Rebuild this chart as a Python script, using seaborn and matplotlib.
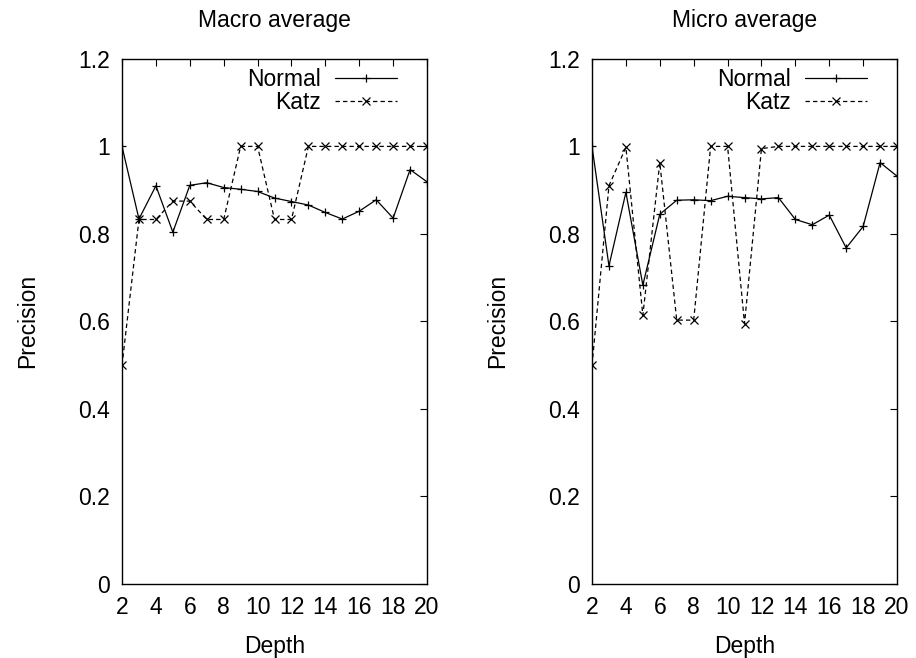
import numpy as np
import pandas as pd
import matplotlib
matplotlib.use("Agg")
import matplotlib.pyplot as plt
import seaborn as sns

sns.set_style("white")
plt.rcParams['font.family'] = ['Liberation Sans', 'DejaVu Sans']
plt.rcParams['text.color'] = 'black'
plt.rcParams['axes.labelcolor'] = 'black'

depth = list(range(2, 21))

# macro average
macro_normal = [1.0, 0.834, 0.910, 0.804, 0.911, 0.917, 0.906, 0.902, 0.897, 0.882,
                0.874, 0.866, 0.849, 0.834, 0.852, 0.878, 0.836, 0.947, 0.919]
macro_katz = [0.5, 0.833, 0.833, 0.875, 0.875, 0.833, 0.833, 1.0, 1.0, 0.833,
              0.833, 1.0, 1.0, 1.0, 1.0, 1.0, 1.0, 1.0, 1.0]

# micro average
micro_normal = [1.0, 0.727, 0.895, 0.683, 0.845, 0.877, 0.878, 0.876, 0.886, 0.883,
                0.880, 0.883, 0.833, 0.821, 0.843, 0.768, 0.817, 0.963, 0.932]
micro_katz = [0.5, 0.910, 0.998, 0.614, 0.963, 0.603, 0.603, 1.0, 1.0, 0.595,
              0.995, 1.0, 1.0, 1.0, 1.0, 1.0, 1.0, 1.0, 1.0]

titles = ["Macro average", "Micro average"]
xticks = list(range(2, 21, 2))
yticks = [0, 0.2, 0.4, 0.6, 0.8, 1.0, 1.2]
ytick_labels = ["0", "0.2", "0.4", "0.6", "0.8", "1", "1.2"]

fig = plt.figure(figsize=(9.16, 6.58), dpi=100)
ax1 = fig.add_axes([0.1332, 0.1125, 0.333, 0.798])
ax2 = fig.add_axes([0.6463, 0.1125, 0.333, 0.798])

fs = 16.5
for ax, title, normal, katz in [(ax1, titles[0], macro_normal, macro_katz),
                                (ax2, titles[1], micro_normal, micro_katz)]:
    df = pd.DataFrame({"Depth": depth * 2,
                       "Precision": normal + katz,
                       "series": ["Normal"] * len(depth) + ["Katz"] * len(depth)})
    sns.lineplot(data=df, x="Depth", y="Precision", style="series", ax=ax,
                 color="black", lw=0.9,
                 markers={"Normal": "+", "Katz": "x"},
                 dashes={"Normal": "", "Katz": (3.5, 2.5)},
                 markersize=5.5, markeredgewidth=0.9, markeredgecolor="black")
    ax.set_xlim(2, 20)
    ax.set_ylim(0, 1.2)
    ax.set_xticks(xticks)
    ax.set_yticks(yticks)
    ax.set_yticklabels(ytick_labels)
    ax.tick_params(direction="in", top=True, right=True, length=5, width=0.8,
                   labelsize=fs, pad=9, colors="black")
    for s in ax.spines.values():
        s.set_color("black")
        s.set_linewidth(1.0)
    ax.set_title(title, fontsize=fs, pad=23)
    ax.set_xlabel("Depth", fontsize=fs, labelpad=11)
    ax.set_ylabel("Precision", fontsize=fs, labelpad=28)
    ax.legend(loc="upper right", frameon=False, markerfirst=False, fontsize=fs,
              handlelength=2.7, handletextpad=0.6, labelspacing=0.0,
              borderaxespad=0.3, borderpad=0.1,
              bbox_to_anchor=(0.93, 1.0))

fig.savefig("out.png", dpi=100)
